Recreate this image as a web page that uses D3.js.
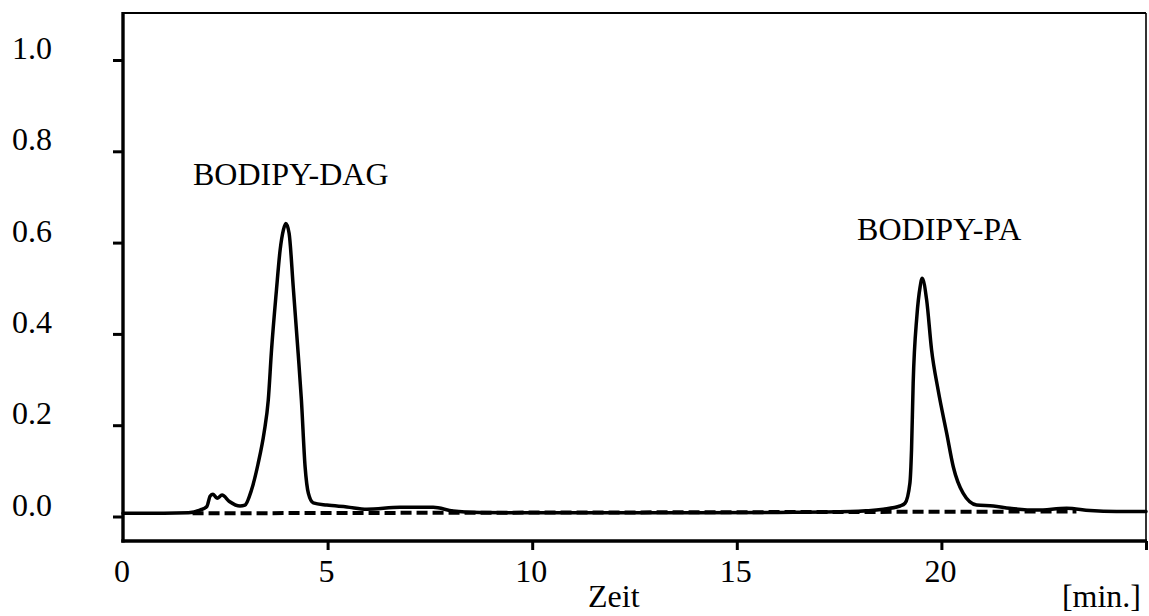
<!DOCTYPE html>
<html>
<head>
<meta charset="utf-8">
<script src="https://cdn.jsdelivr.net/npm/d3@7"></script>
<style>
  html, body { margin: 0; padding: 0; background: #fff; }
  svg { display: block; }
  text { font-family: "Liberation Serif", "Times New Roman", serif; fill: #000; }
</style>
</head>
<body>
<svg id="chart" width="1149" height="616"></svg>
<script>
// ---- data ----
const time = [0, 1.0, 1.6, 1.88, 2.05, 2.13, 2.2, 2.3, 2.42, 2.6, 2.86, 2.98, 3.14, 3.3, 3.45, 3.55, 3.63, 3.75, 3.84, 3.92, 3.98, 4.06, 4.16, 4.28, 4.36, 4.45, 4.53, 4.65, 4.98, 5.47, 5.96, 6.77, 7.58, 8.07, 8.72, 10, 12, 14, 16, 17.77, 18.58, 18.99, 19.11, 19.23, 19.27, 19.31, 19.40, 19.48, 19.53, 19.64, 19.76, 19.92, 20.13, 20.29, 20.53, 20.86, 21.27, 21.67, 22.33, 23.06, 23.63, 24.28, 25];
const signal = [0.007, 0.007, 0.008, 0.014, 0.022, 0.045, 0.049, 0.040, 0.047, 0.033, 0.023, 0.025, 0.058, 0.115, 0.185, 0.255, 0.365, 0.496, 0.584, 0.628, 0.642, 0.620, 0.503, 0.358, 0.255, 0.109, 0.051, 0.030, 0.025, 0.021, 0.016, 0.020, 0.020, 0.012, 0.009, 0.008, 0.008, 0.008, 0.009, 0.011, 0.016, 0.023, 0.029, 0.073, 0.146, 0.292, 0.438, 0.503, 0.522, 0.474, 0.365, 0.277, 0.182, 0.109, 0.051, 0.025, 0.023, 0.018, 0.014, 0.018, 0.013, 0.011, 0.011];
const baselineTime = [1.7, 23.3];
const baselineValue = [0.007, 0.011];
const yTicks = [0.0, 0.2, 0.4, 0.6, 0.8, 1.0];
const xTicks = [5, 10, 15, 20, 25];
const xTickLabels = [0, 5, 10, 15, 20];
const peakLabels = [
  { text: "BODIPY-DAG", t: 1.71, v: 0.727 },
  { text: "BODIPY-PA", t: 17.94, v: 0.606 }
];
const xTitle = "Zeit";
const xUnit = "[min.]";

// ---- layout ----
const svg = d3.select("#chart");
const padL = 123, padR = 1146, padT = 13, padB = 541;
const FS = 32;
const x = d3.scaleLinear().domain([0, 25]).range([padL, padR]);
const y = d3.scaleLinear().domain([0, 1]).range([516.5, 60]);

// frame (thin top/right)
svg.append("line").attr("x1", padL).attr("x2", padR).attr("y1", padT).attr("y2", padT)
  .attr("stroke", "#000").attr("stroke-width", 1.8);
svg.append("line").attr("x1", padR).attr("x2", padR).attr("y1", padT).attr("y2", padB)
  .attr("stroke", "#000").attr("stroke-width", 1.6);

// left axis
const yAxis = d3.axisLeft(y).tickValues(yTicks).tickSize(10).tickFormat("");
const gy = svg.append("g").attr("transform", `translate(${padL},0)`).call(yAxis);
gy.select(".domain").remove();
gy.selectAll(".tick line").attr("stroke", "#000").attr("stroke-width", 3);
svg.append("line").attr("x1", padL).attr("x2", padL).attr("y1", padT - 1).attr("y2", padB + 1.5)
  .attr("stroke", "#000").attr("stroke-width", 3.4);

svg.selectAll(".ylab").data(yTicks).enter().append("text")
  .attr("class", "ylab")
  .attr("x", 52).attr("y", d => y(d) - 1)
  .attr("text-anchor", "end").attr("font-size", FS)
  .text(d => d.toFixed(1));

// bottom axis
const xAxis = d3.axisBottom(x).tickValues(xTicks).tickSize(9).tickFormat("");
const gx = svg.append("g").attr("transform", `translate(0,${padB})`).call(xAxis);
gx.select(".domain").remove();
gx.selectAll(".tick line").attr("stroke", "#000").attr("stroke-width", 3);
svg.append("line").attr("x1", padL - 1.7).attr("x2", padR + 1).attr("y1", padB).attr("y2", padB)
  .attr("stroke", "#000").attr("stroke-width", 3.4);

svg.selectAll(".xlab").data(xTickLabels).enter().append("text")
  .attr("class", "xlab")
  .attr("x", d => x(d) - 1).attr("y", 582)
  .attr("text-anchor", "middle").attr("font-size", FS)
  .text(d => d);

svg.append("text").attr("x", 588).attr("y", 607).attr("font-size", FS).text(xTitle);
svg.append("text").attr("x", 1141).attr("y", 607).attr("text-anchor", "end").attr("font-size", FS).text(xUnit);

// dashed baseline
const baseData = baselineTime.map((t, i) => [t, baselineValue[i]]);
svg.append("path").datum(baseData)
  .attr("d", d3.line().x(d => x(d[0])).y(d => y(d[1])))
  .attr("fill", "none").attr("stroke", "#000").attr("stroke-width", 4)
  .attr("stroke-dasharray", "11,5");

// chromatogram
const trace = time.map((t, i) => [t, signal[i]]);
svg.append("path").datum(trace)
  .attr("d", d3.line().x(d => x(d[0])).y(d => y(d[1])).curve(d3.curveMonotoneX))
  .attr("fill", "none").attr("stroke", "#000").attr("stroke-width", 3.5)
  .attr("stroke-linejoin", "round").attr("stroke-linecap", "round");

// peak labels
svg.selectAll(".plab").data(peakLabels).enter().append("text")
  .attr("class", "plab")
  .attr("x", d => x(d.t)).attr("y", d => y(d.v))
  .attr("font-size", FS)
  .text(d => d.text);
</script>
</body>
</html>
